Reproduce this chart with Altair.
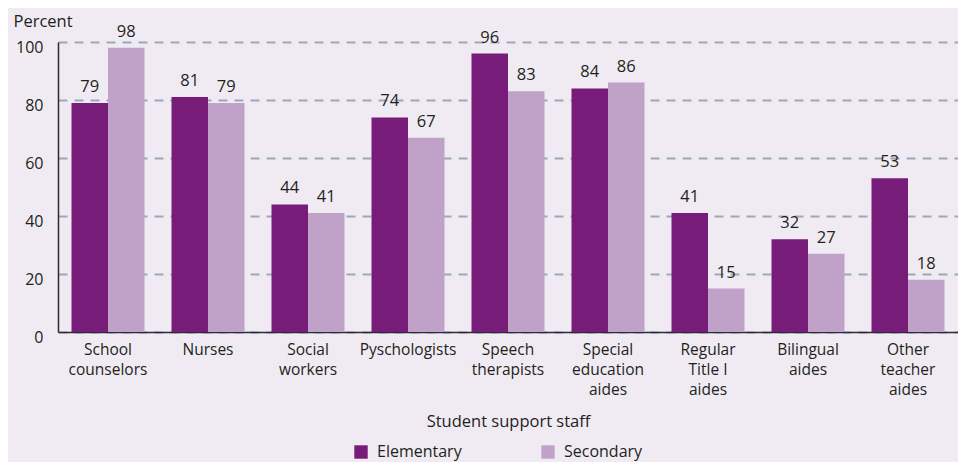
import altair as alt
import pandas as pd

categories = ["School|counselors", "Nurses", "Social|workers", "Pyschologists",
              "Speech|therapists", "Special|education|aides", "Regular|Title I|aides",
              "Bilingual|aides", "Other|teacher|aides"]
elementary = [79, 81, 44, 74, 96, 84, 41, 32, 53]
secondary = [98, 79, 41, 67, 83, 86, 15, 27, 18]
series = ["Elementary", "Secondary"]
colors = ["#781C7A", "#C0A1C8"]

rows = []
for c, e, s in zip(categories, elementary, secondary):
    rows.append({"cat": c, "level": "Elementary", "value": e})
    rows.append({"cat": c, "level": "Secondary", "value": s})
df = pd.DataFrame(rows)

FONT = "Open Sans"
TXT = "#231F20"

x = alt.X("cat:N", sort=categories, title="Student support staff",
          scale=alt.Scale(paddingInner=0.27, paddingOuter=0.135),
          axis=alt.Axis(labelExpr="split(datum.label, '|')", labelAngle=0,
                        labelFontSize=15.5, labelLineHeight=20, labelPadding=10,
                        labelColor=TXT, labelFont=FONT, labelBaseline="top",
                        ticks=False, domainColor="#2B2B3A", domainWidth=1.5,
                        titleFontSize=16.5, titleFont=FONT, titleColor=TXT,
                        titleFontWeight="normal", titlePadding=16, grid=False))
xo = alt.XOffset("level:N", sort=series, scale=alt.Scale(paddingInner=0, paddingOuter=0))
y = alt.Y("value:Q", title="Percent",
          scale=alt.Scale(domain=[0, 100], nice=False),
          axis=alt.Axis(values=[0, 20, 40, 60, 80, 100], ticks=False,
                        labelFontSize=16, labelFont=FONT, labelColor=TXT,
                        labelPadding=15, labelOffset=5,
                        domainColor="#2B2B3A", domainWidth=1.5,
                        grid=True, gridColor="#9AA9BA", gridDash=[9, 7], gridWidth=2,
                        titleAngle=0, titleAlign="left", titleBaseline="alphabetic",
                        titleX=-45, titleY=-16, titleFontSize=16.5, titleFont=FONT,
                        titleColor=TXT, titleFontWeight="normal"))

bars = alt.Chart(df).mark_bar().encode(
    x=x, xOffset=xo, y=y,
    color=alt.Color("level:N", sort=series, title=None,
                    scale=alt.Scale(domain=series, range=colors),
                    legend=alt.Legend(orient="none", legendX=295, legendY=402,
                                      direction="horizontal", symbolType="square",
                                      symbolSize=180, symbolStrokeWidth=0,
                                      labelFontSize=16, labelFont=FONT, labelColor=TXT,
                                      labelOffset=8, columnPadding=78))
)
labels = alt.Chart(df).mark_text(dy=-8, fontSize=16.5, font=FONT, color=TXT, baseline="bottom").encode(
    x=alt.X("cat:N", sort=categories), xOffset=xo, y="value:Q", text="value:Q"
)

chart = alt.layer(bars, labels).properties(
    width=900, height=290,
    padding={"left": 50, "top": 34, "right": 0, "bottom": 130},
    autosize=alt.AutoSizeParams(type="none"),
    background="#F0EBF3"
).configure_view(stroke=None)

chart.save("out.html", embed_options={"renderer": "svg", "actions": False})
